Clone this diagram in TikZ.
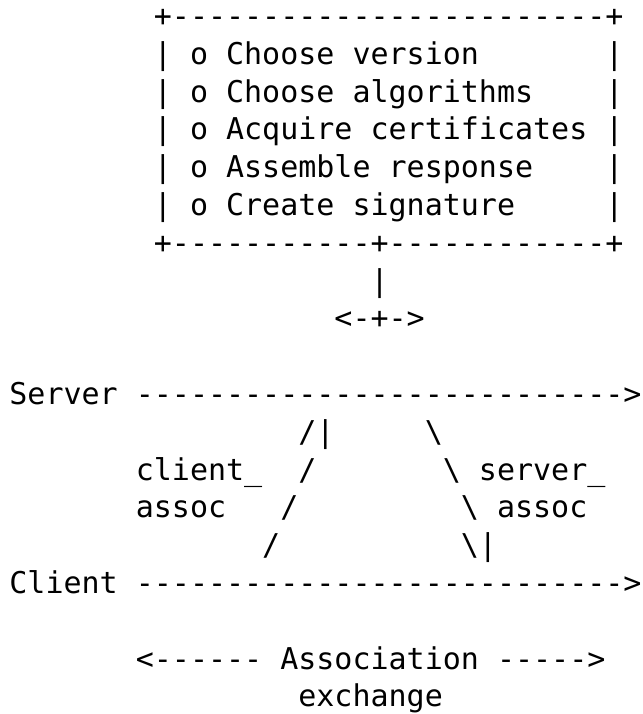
\documentclass[tikz,border=0pt]{standalone}
\usepackage{fontspec}
\newfontfamily\asciifont{DejaVu Sans Mono}
\tikzset{
  txt/.style={anchor=base west, inner sep=0pt, outer sep=0pt,
    font=\asciifont\fontsize{30pt}{37.8pt}\selectfont, text=black}
}
% #1 name, #2 row, #3 column, #4 text
\newcommand\asc[4]{\node[txt] (#1) at ({9.4pt+#3*18.06pt},{-26.5pt-#2*37.8pt}) {#4};}
\begin{document}
\begin{tikzpicture}
\useasboundingbox (0,0) rectangle (642pt,-714pt);
% box (24 dashes)
\asc{boxtop}{0}{8}{+-----{}-----{}-----{}-----{}----{}+}
\asc{l1}{1}{8}{| o Choose version}
\asc{r1}{1}{33}{|}
\asc{l2}{2}{8}{| o Choose algorithms}
\asc{r2}{2}{33}{|}
\asc{l3}{3}{8}{| o Acquire certificates |}
\asc{l4}{4}{8}{| o Assemble response}
\asc{r4}{4}{33}{|}
\asc{l5}{5}{8}{| o Create signature}
\asc{r5}{5}{33}{|}
% 11 dashes + 12 dashes
\asc{boxbot}{6}{8}{+-----{}-----{}-{}+-----{}-----{}--{}+}
\asc{stem}{7}{20}{|}
\asc{fork}{8}{18}{<-{}+-{}>}
% server line (27 dashes)
\asc{server}{10}{0}{Server}
\asc{serverline}{10}{7}{-----{}-----{}-----{}-----{}-----{}--{}>}
% association lines
\asc{ca1}{11}{16}{/|}
\asc{sa1}{11}{23}{\textbackslash}
\asc{clab1}{12}{7}{client\_}
\asc{ca2}{12}{16}{/}
\asc{sa2}{12}{24}{\textbackslash{} server\_}
\asc{clab2}{13}{7}{assoc}
\asc{ca3}{13}{15}{/}
\asc{sa3}{13}{25}{\textbackslash{} assoc}
\asc{ca4}{14}{14}{/}
\asc{sa4}{14}{25}{\textbackslash|}
% client line (27 dashes)
\asc{client}{15}{0}{Client}
\asc{clientline}{15}{7}{-----{}-----{}-----{}-----{}-----{}--{}>}
% exchange
\asc{exch1}{17}{7}{<-----{}-{} Association -----{}>}
\asc{exch2}{18}{16}{exchange}
\end{tikzpicture}
\end{document}
